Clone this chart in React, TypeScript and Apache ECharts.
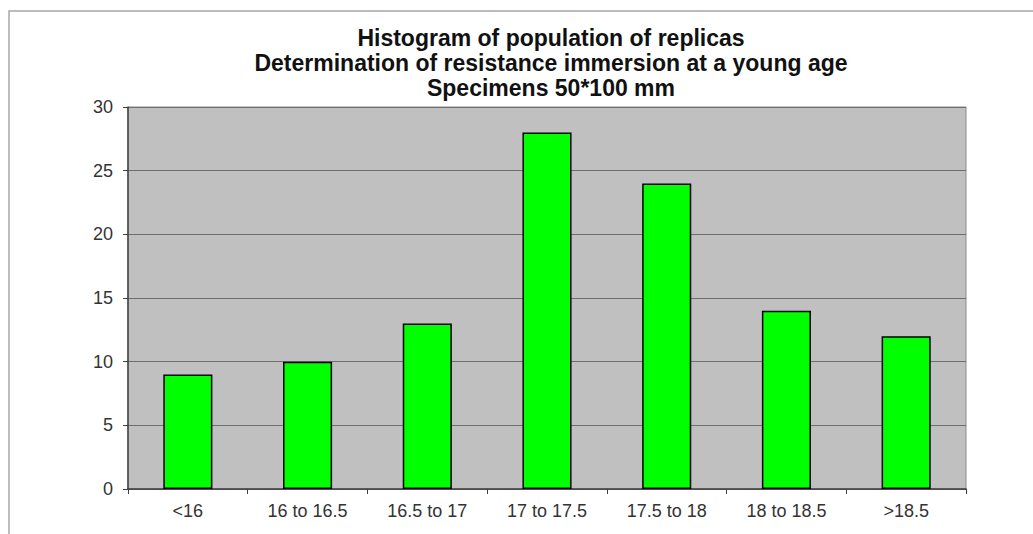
import React, { useEffect, useRef } from "react";
import * as echarts from "echarts";

const categories = ["<16", "16 to 16.5", "16.5 to 17", "17 to 17.5", "17.5 to 18", "18 to 18.5", ">18.5"];
const counts = [9, 10, 13, 28, 24, 14, 12];
const titleLines = [
  "Histogram of population of replicas",
  "Determination of resistance immersion at a young age",
  "Specimens 50*100 mm",
];

export default function App() {
  const ref = useRef<HTMLDivElement>(null);
  useEffect(() => {
    document.body.style.margin = "0";
    const chart = echarts.init(ref.current!, null, { renderer: "svg" });
    chart.setOption({
      animation: false,
      backgroundColor: "#ffffff",
      graphic: [
        {
          type: "rect",
          shape: { x: 9, y: 11, width: 1100, height: 600 },
          style: { fill: "none", stroke: "#a6a6a6", lineWidth: 1.5 },
          silent: true,
        },
        {
          type: "text",
          x: 551,
          y: 25,
          style: {
            text: titleLines.join("\n"),
            font: "bold 23px 'Liberation Sans', Arial, sans-serif",
            lineHeight: 25,
            textAlign: "center",
            textVerticalAlign: "top",
            fill: "#111111",
          },
        },
      ],
      grid: {
        left: 128,
        top: 107,
        right: 67,
        bottom: 45,
        show: true,
        backgroundColor: "#c0c0c0",
        borderColor: "#8c8c8c",
        borderWidth: 1,
      },
      xAxis: {
        type: "category",
        data: categories,
        axisLine: { lineStyle: { color: "#404040", width: 1.5 } },
        axisTick: { show: true, length: 5, lineStyle: { color: "#404040" } },
        axisLabel: {
          color: "#333333",
          fontSize: 18,
          fontFamily: "'Liberation Sans', Arial, sans-serif",
          margin: 13,
        },
      },
      yAxis: {
        type: "value",
        min: 0,
        max: 30,
        interval: 5,
        axisLine: { show: true, lineStyle: { color: "#404040", width: 1.5 } },
        axisTick: { show: true, length: 5, lineStyle: { color: "#404040" } },
        axisLabel: {
          color: "#333333",
          fontSize: 18,
          fontFamily: "'Liberation Sans', Arial, sans-serif",
          margin: 15,
        },
        splitLine: { show: true, lineStyle: { color: "#6e6e6e", width: 1 } },
      },
      series: [
        {
          type: "bar",
          data: counts,
          barWidth: "41%",
          itemStyle: { color: "#00ff00", borderColor: "#000000", borderWidth: 1.5 },
        },
      ],
    });
    return () => chart.dispose();
  }, []);
  return <div ref={ref} style={{ width: 1033, height: 534 }} />;
}
